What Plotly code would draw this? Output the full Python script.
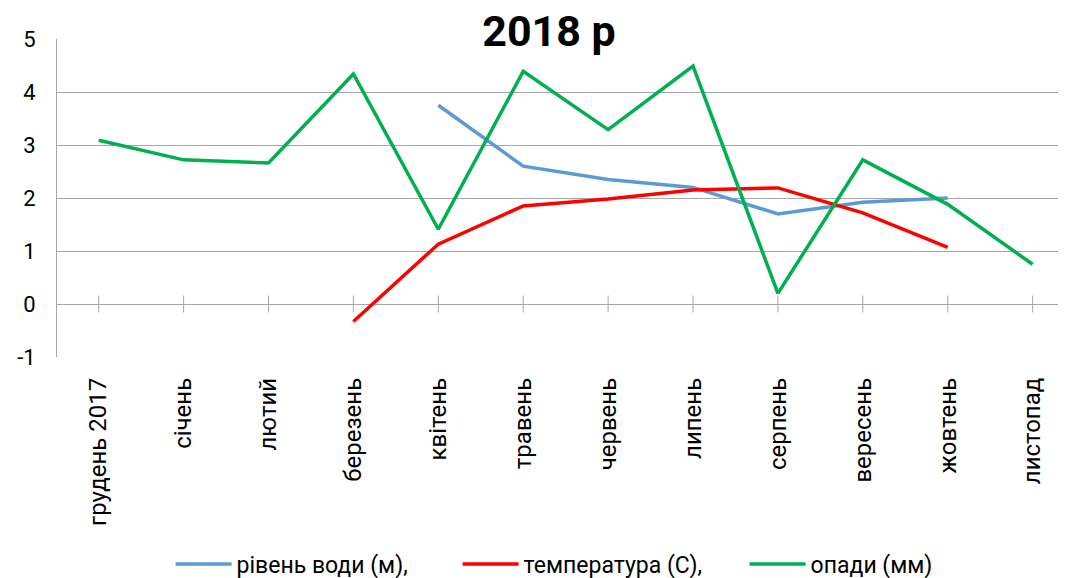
import plotly.graph_objects as go

categories = ["грудень 2017", "січень", "лютий", "березень", "квітень", "травень",
              "червень", "липень", "серпень", "вересень", "жовтень", "листопад"]
water_level = [None, None, None, None, 3.75, 2.60, 2.35, 2.20, 1.70, 1.92, 2.00, None]
temperature = [None, None, None, -0.33, 1.13, 1.85, 1.98, 2.15, 2.19, 1.72, 1.07, None]
precipitation = [3.09, 2.72, 2.66, 4.34, 1.41, 4.39, 3.29, 4.49, 0.20, 2.72, 1.88, 0.75]
y_tick_values = [-1, 0, 1, 2, 3, 4, 5]
y_tick_labels = ["-1", "0", "1", "2", "3", "4", "5"]
zero_line = [0] * len(categories)

FONT = "Roboto"
GRID = "#A6A6A6"
W, H = 1058, 570  # page body has an 8px margin

fig = go.Figure()
fig.add_trace(go.Scatter(x=categories, y=zero_line, mode="markers", showlegend=False,
                         hoverinfo="skip",
                         marker=dict(symbol="line-ns", size=12, line=dict(color=GRID, width=1))))
fig.add_trace(go.Scatter(x=categories, y=water_level, mode="lines", name="рівень води (м),",
                         line=dict(color="#5B9BD5", width=3.5)))
fig.add_trace(go.Scatter(x=categories, y=temperature, mode="lines", name="температура (С),",
                         line=dict(color="#FF0000", width=3.5)))
fig.add_trace(go.Scatter(x=categories, y=precipitation, mode="lines", name="опади (мм)",
                         line=dict(color="#00B050", width=3.5)))

fig.update_layout(
    width=W, height=H,
    margin=dict(l=49, r=0, t=31, b=221, autoexpand=False),
    paper_bgcolor="white", plot_bgcolor="white",
    font=dict(family=FONT, size=20, color="black"),
    title=dict(text="<b>2018 р</b>", x=541 / W, xanchor="center", y=1 - 23 / H,
               yanchor="middle", yref="container", font=dict(size=43, family=FONT)),
    showlegend=True,
    legend=dict(orientation="h", xref="container", yref="container", x=162.6 / W, xanchor="left",
                y=1 - 556 / H, yanchor="middle", font=dict(size=23, family=FONT),
                entrywidth=216, entrywidthmode="pixels", itemwidth=56),
    xaxis=dict(type="category", range=[-0.491, 11.393], showgrid=False, showline=False,
               zeroline=False, tickangle=-90, ticks="", ticklabelstandoff=15,
               tickfont=dict(size=24), automargin=False),
    yaxis=dict(range=[-1, 5], tickmode="array", tickvals=y_tick_values, ticktext=y_tick_labels,
               showgrid=True, gridcolor=GRID, gridwidth=1,
               zeroline=True, zerolinecolor=GRID, zerolinewidth=1,
               showline=True, linecolor=GRID, linewidth=1, ticks="",
               ticklabelstandoff=16, tickfont=dict(size=22), automargin=False),
)

fig.write_html("out.html")
